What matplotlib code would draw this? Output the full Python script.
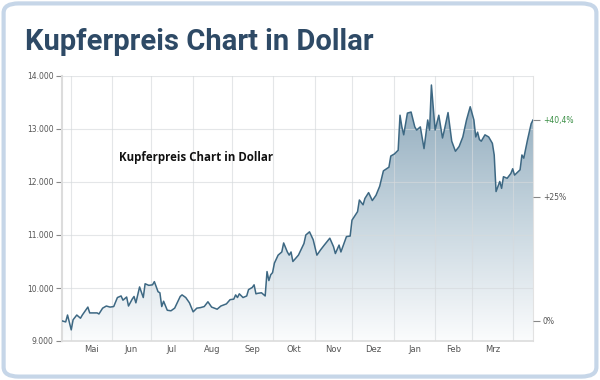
import numpy as np
import matplotlib
matplotlib.use('Agg')
import matplotlib.pyplot as plt
from matplotlib.colors import LinearSegmentedColormap
from matplotlib.patches import FancyBboxPatch
from matplotlib.ticker import FuncFormatter

# Handelstage ab Ende April, Kupferpreis in USD je Tonne
tage = [0, 2, 3, 5, 6, 8, 10, 11, 14, 15, 19, 20, 22, 24, 26, 28, 30, 32, 33, 35,
        36, 38, 39, 40, 42, 44, 45, 47, 49, 50, 52, 53, 54, 55, 57, 59, 61, 64, 65, 67,
        69, 71, 73, 75, 77, 79, 81, 84, 86, 89, 91, 93, 94, 95, 96, 98, 100, 101, 103, 104,
        105, 106, 108, 110, 111, 112, 113, 114, 115, 117, 119, 120, 122, 123, 124, 125, 127, 128, 131, 132,
        134, 136, 138, 140, 142, 145, 147, 148, 150, 151, 154, 156, 157, 160, 161, 163, 164, 166, 168, 170,
        172, 174, 177, 178, 180, 182, 183, 184, 185, 187, 189, 191, 192, 194, 196, 198, 199, 200, 202, 204,
        206, 207, 209, 211, 213, 215, 217, 219, 221, 223, 224, 225, 226, 227, 229, 231, 233, 234, 235, 237,
        238, 239, 241, 243, 244, 245, 248, 249, 250, 252, 254, 255]
preise = [9380, 9360, 9490, 9210, 9400, 9490, 9430, 9490, 9640, 9530, 9530, 9510, 9620, 9660, 9640, 9650, 9820, 9850, 9770, 9830,
          9660, 9790, 9840, 9720, 10020, 9820, 10080, 10050, 10060, 10120, 9930, 9910, 9650, 9750, 9580, 9570, 9620, 9840, 9870, 9820,
          9720, 9550, 9620, 9630, 9650, 9740, 9640, 9600, 9660, 9700, 9780, 9790, 9870, 9820, 9890, 9820, 9850, 9970, 10010, 10060,
          9890, 9900, 9910, 9850, 10310, 10140, 10250, 10290, 10470, 10620, 10680, 10850, 10680, 10620, 10680, 10500, 10580, 10620, 10840, 11000,
          11060, 10910, 10620, 10720, 10810, 10940, 10780, 10650, 10810, 10680, 10970, 10980, 11280, 11440, 11660, 11570, 11690, 11800, 11650, 11750,
          11920, 12210, 12280, 12490, 12530, 12600, 13260, 13040, 12890, 13300, 13320, 13040, 12980, 13040, 12630, 13170, 12980, 13830, 12980, 13260,
          12830, 12980, 13310, 12770, 12580, 12670, 12850, 13170, 13420, 13170, 12850, 12940, 12800, 12770, 12890, 12850, 12730, 12510, 11820, 12010,
          11880, 12100, 12070, 12160, 12250, 12130, 12230, 12510, 12450, 12790, 13100, 13170]

monate = ['Mai', 'Jun', 'Jul', 'Aug', 'Sep', 'Okt', 'Nov', 'Dez', 'Jan', 'Feb', 'Mrz']
monatsanfang = [5, 27, 48, 71, 92, 114, 137, 157, 180, 202, 222, 244]
y_ticks = [9000, 10000, 11000, 12000, 13000, 14000]

titel = 'Kupferpreis Chart in Dollar'

fig = plt.figure(figsize=(6, 3.8), dpi=100)
fig.patch.set_facecolor('white')

# Rahmen der Karte
rahmen = FancyBboxPatch((0.006, 0.009), 0.988, 0.982, boxstyle='round,pad=0,rounding_size=0.025',
                        transform=fig.transFigure, facecolor='white', edgecolor='#c6d6e8', linewidth=3,
                        zorder=-10)
fig.patches.append(rahmen)

fig.text(25 / 600, 1 - 42 / 380, titel, fontsize=21, fontweight='bold', family='Roboto',
         color='#2e4a66', va='center', ha='left')

ax = fig.add_axes([62 / 600, 39 / 380, 471 / 600, 265 / 380])
ax.set_zorder(1)
ax.patch.set_alpha(0)
ax.set_xlim(0, 255)
ax.set_ylim(9000, 14000)

x = np.array(tage)
y = np.array(preise)

# Flaeche mit Farbverlauf
cmap = LinearSegmentedColormap.from_list('verlauf', ['#fbfcfd', '#c2d2dc', '#88a4b7'])
grad = np.linspace(0, 1, 256).reshape(-1, 1)
img = ax.imshow(grad, extent=[0, 255, 9000, 14000], origin='lower', aspect='auto', cmap=cmap, zorder=1)
flaeche = ax.fill_between(x, y, 9000, facecolor='none', edgecolor='none')
img.set_clip_path(flaeche.get_paths()[0], transform=ax.transData)

ax.plot(x, y, color='#3d6883', linewidth=1.1, zorder=3)

# Gitter
for m in monatsanfang:
    ax.axvline(m, color='#d6dadd', linewidth=0.8, alpha=0.65, zorder=2)
for t in y_ticks:
    ax.axhline(t, color='#d6dadd', linewidth=0.8, alpha=0.65, zorder=2)

ax.set_yticks(y_ticks)
ax.yaxis.set_major_formatter(FuncFormatter(lambda v, p: '{:,.0f}'.format(v).replace(',', '.')))
mitte = [(monatsanfang[i] + monatsanfang[i + 1]) / 2 for i in range(len(monate))]
ax.set_xticks(mitte)
ax.set_xticklabels(monate)
ax.tick_params(axis='x', length=0, pad=3, labelsize=6, labelcolor='#555555')
ax.tick_params(axis='y', length=4, width=0.8, color='#888888', pad=2, labelsize=5.5, labelcolor='#555555')

ax.spines['top'].set_visible(False)
ax.spines['right'].set_color('#e2e2e2')
ax.spines['right'].set_linewidth(0.8)
ax.spines['left'].set_color('#dcdcdc')
ax.spines['bottom'].set_color('#dcdcdc')
ax.spines['left'].set_linewidth(1.5)
ax.spines['bottom'].set_linewidth(1.2)

ax.text(72.5, 12470, titel, fontsize=8.3, fontweight='bold', family='Open Sans', color='#111111',
        ha='center', va='center', zorder=4)

# rechte Achse mit Veraenderung in Prozent
start = preise[0]
ende = preise[-1]
plus = (ende / start - 1) * 100
ax2 = ax.twinx()
ax2.set_ylim(9000, 14000)
ax2.set_yticks([start, start * 1.25, ende])
ax2.set_yticklabels(['0%', '+25%', '+{:.1f}%'.format(plus).replace('.', ',')])
ax2.tick_params(axis='y', length=5, width=0.8, color='#888888', pad=2, labelsize=5.5, labelcolor='#555555')
ax2.get_yticklabels()[-1].set_color('#3a8f45')
for s in ax2.spines.values():
    s.set_visible(False)

fig.savefig('out.png', dpi=100)
